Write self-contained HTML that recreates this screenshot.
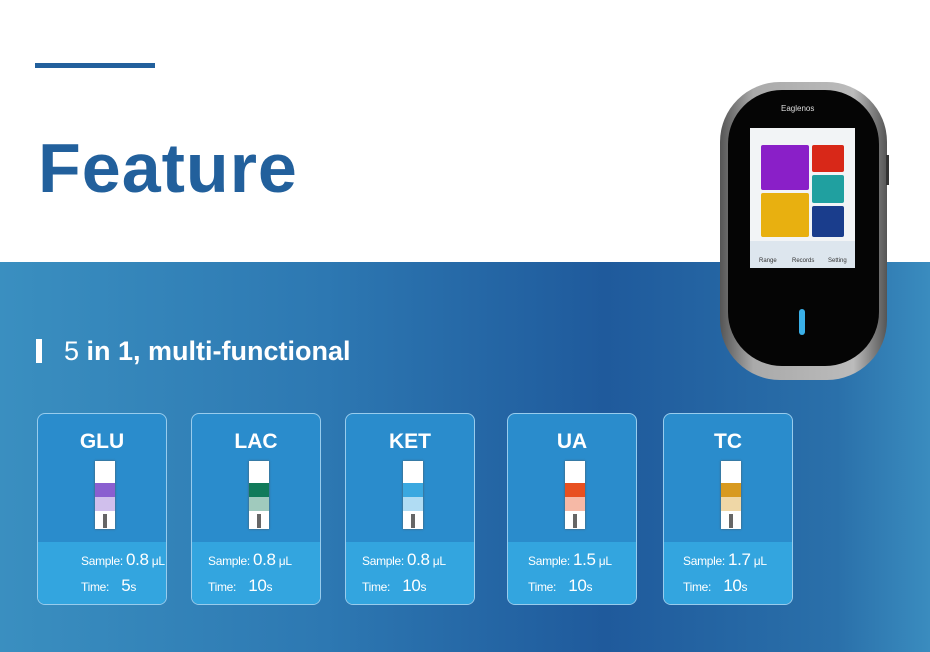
<!DOCTYPE html>
<html><head><style>
body{margin:0;width:930px;height:652px;overflow:hidden;font-family:"Liberation Sans",sans-serif;background:#fff;position:relative}
.bar{position:absolute;left:35px;top:63px;width:120px;height:5px;background:#22609c}
h1{position:absolute;left:38px;top:128px;margin:0;font-size:70px;font-weight:bold;color:#22609c;letter-spacing:1px}
.blue{position:absolute;left:0;top:262px;width:930px;height:390px;background:linear-gradient(90deg,#3a8fc0 0%,#2d78b2 35%,#1f5a9c 65%,#2a70aa 90%,#3a8cbf 100%)}
.sub{position:absolute;left:36px;top:336px;color:#fff;font-size:27px}
.sub i{display:inline-block;width:6px;height:24px;background:#fff;margin-right:22px;vertical-align:-3px}
.card{position:absolute;top:413px;width:128px;height:190px;border:1.5px solid rgba(180,220,245,.8);border-radius:8px;background:#2a8ccc;overflow:hidden;color:#fff}
.card .t{text-align:center;font-weight:bold;font-size:21px;margin-top:16px}
.card .low{position:absolute;left:0;right:0;bottom:0;height:62px;background:#33a5df;font-size:12px;letter-spacing:-0.3px}
.card .low div{position:absolute;white-space:nowrap}
.card .low b{font-weight:normal;font-size:17px}
.strip{position:absolute;top:47px;left:57px;width:20px;height:68px;background:#fff;box-shadow:0 0 2px #555}
.strip .c{position:absolute;top:22px;left:0;right:0;height:14px}
.strip .c2{position:absolute;top:36px;left:0;right:0;height:14px;opacity:.4}
.strip .e{position:absolute;top:53px;left:8px;width:4px;height:14px;background:#666}
.dev{position:absolute;left:720px;top:82px;width:167px;height:298px;border-radius:60px;background:linear-gradient(90deg,#555,#aaa 20%,#bbb 80%,#555)}
.dev .in{position:absolute;left:8px;top:8px;right:8px;bottom:14px;border-radius:54px;background:#050505}
.scr{position:absolute;left:750px;top:128px;width:105px;height:140px;background:#f2f4f6}
</style></head><body>
<div class="bar"></div>
<h1>Feature</h1>
<div class="blue"></div>
<div class="sub"><i></i>5 <b>in 1, multi-functional</b></div>

<div class="card" style="left:37px"><div class="t">GLU</div><div class="strip"><div class="c" style="background:#8a5fd0"></div><div class="c2" style="background:#8a5fd0"></div><div class="e"></div></div><div class="low"><div style="top:8px;left:43px">Sample: <b>0.8</b> μL</div><div style="top:34px;left:43px">Time: &nbsp;&nbsp;&nbsp;<b>5</b>s</div></div></div>
<div class="card" style="left:191px"><div class="t">LAC</div><div class="strip"><div class="c" style="background:#117a5a"></div><div class="c2" style="background:#117a5a"></div><div class="e"></div></div><div class="low"><div style="top:8px;left:16px">Sample: <b>0.8</b> μL</div><div style="top:34px;left:16px">Time: &nbsp;&nbsp;&nbsp;<b>10</b>s</div></div></div>
<div class="card" style="left:345px"><div class="t">KET</div><div class="strip"><div class="c" style="background:#3aa8e0"></div><div class="c2" style="background:#3aa8e0"></div><div class="e"></div></div><div class="low"><div style="top:8px;left:16px">Sample: <b>0.8</b> μL</div><div style="top:34px;left:16px">Time: &nbsp;&nbsp;&nbsp;<b>10</b>s</div></div></div>
<div class="card" style="left:507px"><div class="t">UA</div><div class="strip"><div class="c" style="background:#e85020"></div><div class="c2" style="background:#e85020"></div><div class="e"></div></div><div class="low"><div style="top:8px;left:20px">Sample: <b>1.5</b> μL</div><div style="top:34px;left:20px">Time: &nbsp;&nbsp;&nbsp;<b>10</b>s</div></div></div>
<div class="card" style="left:663px"><div class="t">TC</div><div class="strip"><div class="c" style="background:#d89a20"></div><div class="c2" style="background:#d89a20"></div><div class="e"></div></div><div class="low"><div style="top:8px;left:19px">Sample: <b>1.7</b> μL</div><div style="top:34px;left:19px">Time: &nbsp;&nbsp;&nbsp;<b>10</b>s</div></div></div>

<div class="dev"><div class="in"></div></div>
<div style="position:absolute;left:886px;top:155px;width:3px;height:30px;background:#333"></div>
<div style="position:absolute;left:781px;top:104px;color:#ddd;font-size:8px">Eaglenos</div>
<div class="scr">
<div style="position:absolute;left:11px;top:17px;width:48px;height:45px;background:#8a1fc8;border-radius:2px"></div>
<div style="position:absolute;left:62px;top:17px;width:32px;height:27px;background:#d82818;border-radius:2px"></div>
<div style="position:absolute;left:62px;top:47px;width:32px;height:28px;background:#20a0a0;border-radius:2px"></div>
<div style="position:absolute;left:11px;top:65px;width:48px;height:44px;background:#e8b010;border-radius:2px"></div>
<div style="position:absolute;left:62px;top:78px;width:32px;height:31px;background:#1a3d8c;border-radius:2px"></div>
<div style="position:absolute;left:0;top:113px;width:105px;height:27px;background:#dde6ee;font-size:6px;color:#333"><span style="position:absolute;left:9px;top:17px">Range</span><span style="position:absolute;left:42px;top:17px">Records</span><span style="position:absolute;left:78px;top:17px">Setting</span></div>
</div>
<div style="position:absolute;left:799px;top:309px;width:6px;height:26px;border-radius:3px;background:#3ab0e8"></div>
</body></html>
